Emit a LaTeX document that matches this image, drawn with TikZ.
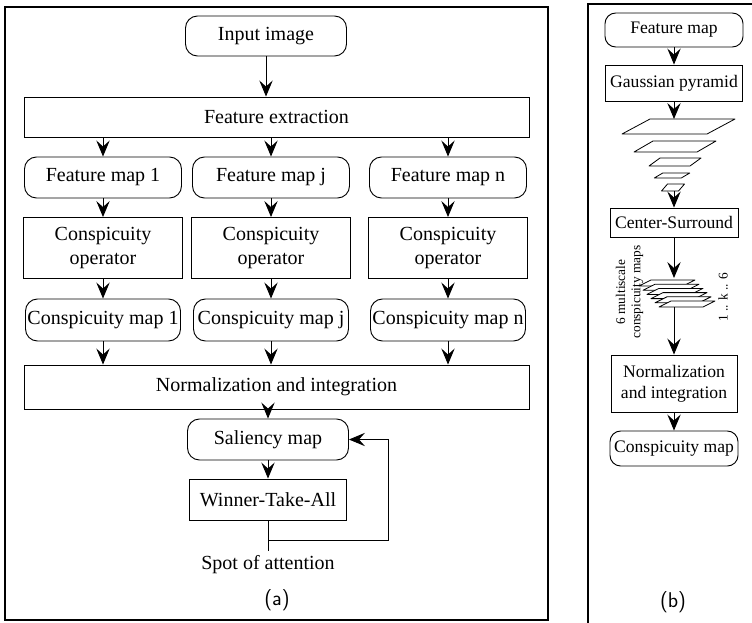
\documentclass[tikz,border=0pt]{standalone}
\usepackage{fontspec}
\setmainfont{Liberation Serif}
\usetikzlibrary{arrows.meta}

\begin{document}
\begin{tikzpicture}[x=0.75pt, y=-0.75pt,
    >={Stealth[length=12pt,width=10pt,inset=4.5pt]},
    box/.style={draw, line width=0.7pt, inner sep=0pt, align=center, font=\fontsize{15}{17.5}\selectfont},
    rbox/.style={box, rounded corners=9pt},
    sbox/.style={draw, line width=0.7pt, inner sep=0pt, align=center, font=\fontsize{13.2}{15.5}\selectfont},
    srbox/.style={sbox, rounded corners=8pt},
    frame/.style={line width=1.9pt},
    sheet/.style={draw, line width=0.6pt, fill=white, line join=round},
    link/.style={->, line width=0.7pt},
    tag/.style={font=\sffamily\fontsize{16}{18}\selectfont}]
    \useasboundingbox (0,0) rectangle (752,622);

    % 枠
    \draw[frame] (5,7) rectangle (548,620);
    \draw[frame] (588,630) -- (588,4) -- (760,4);

    % (a) 上段
    \node[rbox, minimum width=120.75pt, minimum height=30pt] (in) at (266,36) {Input image};
    \node[box, minimum width=378.75pt, minimum height=30pt] (fe) at (276.5,117) {Feature extraction};
    \draw[link] (in) -- (in |- fe.north);

    % (a) 三つの列
    \foreach \i/\x in {1/103, j/271, n/448} {
        \node[rbox, minimum width=117.75pt, minimum height=30.75pt] (fm\i) at (\x,177.5) {Feature map \i};
        \node[box, minimum width=119.25pt, minimum height=45.75pt] (co\i) at (\x,248) {Conspicuity\\operator};
        \node[rbox, minimum width=116.25pt, minimum height=31.5pt] (cm\i) at (\x,320) {Conspicuity map \i};
        \draw[link] (fe.south -| fm\i) -- (fm\i);
        \draw[link] (fm\i) -- (co\i);
        \draw[link] (co\i) -- (cm\i);
    }

    % (a) 下段
    \node[box, minimum width=378.75pt, minimum height=33pt] (ni) at (276.5,387) {Normalization and integration};
    \foreach \i in {1, j, n}
        \draw[link] (cm\i) -- (cm\i |- ni.north);
    \node[rbox, minimum width=120.75pt, minimum height=30.75pt] (sm) at (268,439.5) {Saliency map};
    \node[box, minimum width=117.75pt, minimum height=30.75pt] (wta) at (268,499.5) {Winner-Take-All};
    \node[font=\fontsize{15}{17.5}\selectfont] (spot) at (268,565) {Spot of attention};
    \draw[link] (ni.south -| sm) -- (sm);
    \draw[link] (sm) -- (wta);

    % 帰還
    \coordinate (jn) at (268,540);
    \coordinate (fb) at (388,540);
    \draw[line width=0.7pt] (wta) -- (spot);
    \draw[link] (jn) -- (fb) |- (sm.east);

    \node[tag] (la) at (277,600) {(a)};

    % (b)
    \node[srbox, minimum width=103.5pt, minimum height=25.5pt] (bfm) at (674,30) {Feature map};
    \node[sbox, minimum width=102.75pt, minimum height=27pt] (bgp) at (674,83) {Gaussian pyramid};
    \draw[link] (bfm) -- (bgp);

    % ピラミッド
    \foreach \cx/\cy/\w/\s/\h in {678.5/126.5/85/28/15, 675/146.5/63/19/11, 675/162/41/11/8, 672/175.5/27/8.5/5, 673/187.5/17/6/7}
        \draw[sheet] (\cx-\w/2-\s/2, \cy+\h/2) -- ++(\w,0) -- ++(\s,-\h) -- ++(-\w,0) -- cycle;
    \coordinate (pt) at (674,119);
    \coordinate (pb) at (674,191);
    \draw[link] (bgp) -- (pt);

    \node[sbox, minimum width=96pt, minimum height=21.75pt] (bcs) at (674,222.5) {Center-Surround};
    \draw[link] (pb) -- (bcs);

    % 6枚の重なり
    \foreach \k in {0,...,5}
        \draw[sheet] (667+4*\k-28, 283+4.2*\k+3) -- ++(44,0) -- ++(12,-6) -- ++(-44,0) -- cycle;
    \coordinate (st) at (674,278);
    \coordinate (sb) at (674,307);
    \draw[link] (bcs) -- (st);

    \node[rotate=90, align=center, inner sep=0pt, font=\fontsize{10}{11.5}\selectfont] (msl) at (629.5,292) {6 multiscale\\conspicuity maps};
    \node[rotate=90, inner sep=0pt, font=\fontsize{10}{11.5}\selectfont] (kl) at (723,297) {1 .. k .. 6};

    \node[sbox, minimum width=94.5pt, minimum height=42.75pt] (bni) at (674,383.5) {Normalization\\and integration};
    \node[srbox, minimum width=96pt, minimum height=26.25pt] (bcm) at (674,448.5) {Conspicuity map};
    \draw[link] (sb) -- (bni);
    \draw[link] (bni) -- (bcm);

    \node[tag] (lb) at (673,602) {(b)};
\end{tikzpicture}
\end{document}
